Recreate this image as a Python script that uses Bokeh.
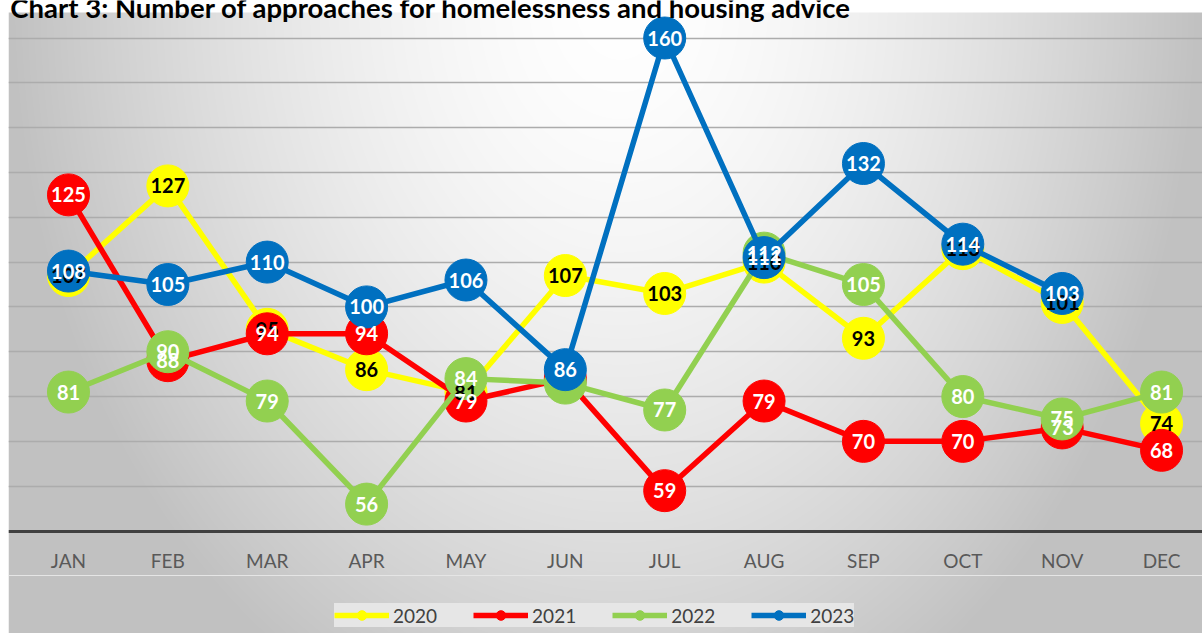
import numpy as np
from bokeh.plotting import figure
from bokeh.models import FixedTicker, Range1d, Legend, LegendItem, Label, Grid
from bokeh.core.properties import value
from bokeh.embed import file_html
from bokeh.resources import INLINE

# ---------------- data ----------------
months = ["JAN", "FEB", "MAR", "APR", "MAY", "JUN", "JUL", "AUG", "SEP", "OCT", "NOV", "DEC"]
years = ["2020", "2021", "2022", "2023"]
v2020 = [107, 127, 95, 86, 81, 107, 103, 110, 93, 113, 101, 74]
v2021 = [125, 88, 94, 94, 79, 84, 59, 79, 70, 70, 73, 68]
v2022 = [81, 90, 79, 56, 84, 83, 77, 112, 105, 80, 75, 81]
v2023 = [108, 105, 110, 100, 106, 86, 160, 111, 132, 114, 103, None]
# data labels that the original chart does not show
hidden_labels = {"2020": [], "2021": ["JUN"], "2022": ["JUN"], "2023": []}
axis_base = 50
grid_values = [60, 70, 80, 90, 100, 110, 120, 130, 140, 150, 160]
title = "Chart 3: Number of approaches for homelessness and housing advice"

series = [v2020, v2021, v2022, v2023]
colors = ["#FFFF00", "#FF0000", "#92D050", "#0070C0"]
label_colors = ["#000000", "#FFFFFF", "#FFFFFF", "#FFFFFF"]

FONT = "Lato"
W, H, LEFT = 1202, 633, 8
x0, x1 = -0.6036, 11.412
y0, y1 = 27.13, 168.37

p = figure(width=W, height=H, output_backend="svg", toolbar_location=None,
           x_range=Range1d(x0, x1), y_range=Range1d(y0, y1),
           y_axis_location=None,
           min_border_left=LEFT, min_border_right=0, min_border_top=0, min_border_bottom=0)
p.border_fill_color = "#ffffff"
p.background_fill_color = None
p.outline_line_color = None
p.xgrid.visible = False

# ---- background: white title strip + radial grey "path" gradient (decoration) ----
fw, fh = W - LEFT, H
cols = LEFT + np.arange(fw) + 0.5
rows = np.arange(fh) + 0.5
CX, CY = 620.0, 0.0
rx = np.where(cols < CX, 612.0, 580.0)
t = np.sqrt(((cols[None, :] - CX) / rx[None, :]) ** 2 + ((rows[:, None] - CY) / 790.0) ** 2)
shade = 255.0 - 62.0 * np.clip(t, 0, 1) ** 1.6
shade[rows < 12, :] = 255.0
shade = shade.astype(np.uint8)
img = np.empty((fh, fw), dtype=np.uint32)
view = img.view(dtype=np.uint8).reshape((fh, fw, 4))
view[..., 0] = shade
view[..., 1] = shade
view[..., 2] = shade
view[..., 3] = 255
img = img[::-1]
p.image_rgba(image=[img], x=x0, y=y0, dw=x1 - x0, dh=y1 - y0, level="image")

p.add_layout(Grid(dimension=1, ticker=FixedTicker(ticks=grid_values),
                  grid_line_color="#acacac", grid_line_width=1.6))

xa = p.xaxis[0]
xa.fixed_location = axis_base
xa.ticker = FixedTicker(ticks=list(range(len(months))))
xa.major_label_overrides = {i: m for i, m in enumerate(months)}
xa.major_tick_line_color = None
xa.minor_tick_line_color = None
xa.axis_line_color = "#404040"
xa.axis_line_width = 3
xa.major_label_standoff = 12
xa.major_label_text_font = FONT
xa.major_label_text_font_size = "19px"
xa.major_label_text_color = "#595959"

xs = list(range(len(months)))

def to_num(vals):
    return [np.nan if v is None else float(v) for v in vals]

# lines and markers, series by series
items = []
for yr, vals, col in zip(years, series, colors):
    ys = to_num(vals)
    lr = p.line(xs, ys, line_color=col, line_width=5.5)
    sr = p.scatter(xs, ys, size=42, fill_color=col, line_color=col)
    items.append(LegendItem(label=yr, renderers=[lr, sr]))

# data labels on top of everything
for yr, vals, lc in zip(years, series, label_colors):
    lx, ly, lt = [], [], []
    for i, v in enumerate(vals):
        if v is None or months[i] in hidden_labels[yr]:
            continue
        lx.append(i)
        ly.append(v)
        lt.append(str(v))
    p.text(lx, ly, text=lt, text_font=value(FONT), text_font_style="bold", text_font_size="20px",
           text_align="center", text_baseline="middle", text_color=lc)

legend = Legend(items=items, orientation="horizontal", location=(326, 6),
                glyph_width=55, glyph_height=24, label_height=24, label_standoff=4,
                spacing=36, padding=11, margin=0,
                background_fill_color="#e6e6e6", background_fill_alpha=1,
                border_line_color=None,
                label_text_font=FONT, label_text_font_size="19px", label_text_color="#404040")
p.add_layout(legend)

p.add_layout(Label(x=-0.585, y=166.8, text=title, text_font=FONT, text_font_style="bold",
                   text_font_size="27.5px", text_color="#000000", text_baseline="alphabetic"))

open("out.html", "w").write(file_html(p, INLINE))
